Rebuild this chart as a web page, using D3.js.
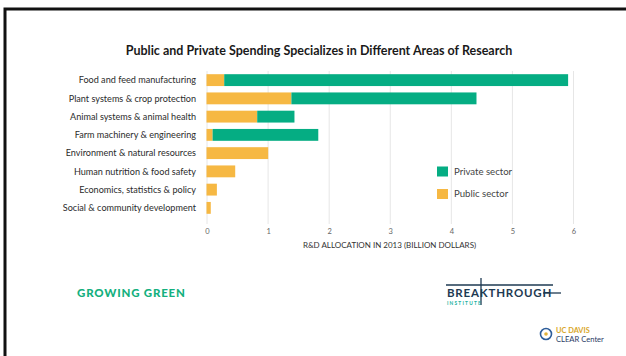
<!DOCTYPE html>
<html>
<head>
<meta charset="utf-8">
<script src="https://cdn.jsdelivr.net/npm/d3@7"></script>
<style>
  html, body { margin: 0; padding: 0; background: #fff; }
  svg { display: block; }
</style>
</head>
<body>
<svg id="chart" width="626" height="356"></svg>
<script>
// R&D allocation in 2013, billions of dollars
const categories = [
  "Food and feed manufacturing",
  "Plant systems & crop protection",
  "Animal systems & animal health",
  "Farm machinery & engineering",
  "Environment & natural resources",
  "Human nutrition & food safety",
  "Economics, statistics & policy",
  "Social & community development"
];
const publicValues  = [0.29, 1.39, 0.83, 0.10, 1.01, 0.47, 0.17, 0.07];
const privateValues = [5.63, 3.03, 0.61, 1.73, 0, 0, 0, 0];
const xTicks = [0, 1, 2, 3, 4, 5, 6];
const seriesNames = ["Public sector", "Private sector"];
const legendOrder = ["Private sector", "Public sector"];

const colors = { "Public sector": "#f6b843", "Private sector": "#05ad83" };
const labelFont = "Lato, 'Open Sans', sans-serif";

const svg = d3.select("#chart");

// outer frame
svg.append("path")
  .attr("d", "M5,356V9H626")
  .attr("fill", "none")
  .attr("stroke", "#111")
  .attr("stroke-width", 3);

const x = d3.scaleLinear().domain([0, 6]).range([206.5, 573]);
const y = d3.scaleBand().domain(categories).range([71, 217]).paddingInner(0.35).paddingOuter(0.175);

// title
svg.append("text")
  .attr("x", 319).attr("y", 54.5)
  .attr("text-anchor", "middle")
  .attr("font-family", labelFont)
  .attr("font-weight", 700)
  .attr("font-size", 12.5)
  .attr("fill", "#1a1a1a")
  .text("Public and Private Spending Specializes in Different Areas of Research");

// grid lines
svg.append("g").selectAll("line").data(xTicks).join("line")
  .attr("x1", d => x(d) + 0.5).attr("x2", d => x(d) + 0.5)
  .attr("y1", 71).attr("y2", 224)
  .attr("stroke", "#e6e6e6").attr("stroke-width", 1);

// stacked bars
const rows = categories.map((c, i) => ({
  category: c,
  "Public sector": publicValues[i],
  "Private sector": privateValues[i]
}));
const stack = d3.stack().keys(seriesNames)(rows);

svg.append("g").selectAll("g").data(stack).join("g")
  .attr("fill", s => colors[s.key])
  .selectAll("rect").data(s => s).join("rect")
  .attr("x", d => x(d[0]))
  .attr("y", d => y(d.data.category))
  .attr("width", d => Math.max(0, x(d[1]) - x(d[0])))
  .attr("height", y.bandwidth());

// category labels
svg.append("g").selectAll("text").data(categories).join("text")
  .attr("x", 196)
  .attr("y", d => y(d) + y.bandwidth() / 2)
  .attr("dy", "0.35em")
  .attr("text-anchor", "end")
  .attr("font-family", labelFont)
  .attr("font-size", 9.1)
  .attr("fill", "#2b2b2b")
  .text(d => d);

// x axis tick labels
const xAxis = d3.axisBottom(x).tickValues(xTicks).tickFormat(d3.format("d")).tickSize(0).tickPadding(0);
const gx = svg.append("g").attr("transform", "translate(0.5,229)").call(xAxis);
gx.select(".domain").remove();
gx.selectAll("text")
  .attr("font-family", labelFont)
  .attr("font-size", 7.5)
  .attr("fill", "#666");

// axis title
svg.append("text")
  .attr("x", 389.5).attr("y", 248)
  .attr("text-anchor", "middle")
  .attr("font-family", labelFont)
  .attr("font-size", 8.0)
  .attr("fill", "#333")
  .text("R&D ALLOCATION IN 2013 (BILLION DOLLARS)");

// legend
const legend = svg.append("g").selectAll("g").data(legendOrder).join("g")
  .attr("transform", (d, i) => `translate(437,${166.5 + i * 22.5})`);
legend.append("rect")
  .attr("width", 11).attr("height", 10)
  .attr("fill", d => colors[d]);
legend.append("text")
  .attr("x", 17).attr("y", 5).attr("dy", "0.35em")
  .attr("font-family", labelFont)
  .attr("font-size", 9.6)
  .attr("fill", "#444")
  .text(d => d);

// footer: series name
svg.append("text")
  .attr("x", 77).attr("y", 296.5)
  .attr("font-family", labelFont)
  .attr("font-weight", 900)
  .attr("font-size", 11.5)
  .attr("letter-spacing", 0.8)
  .attr("fill", "#14b07e")
  .text("GROWING GREEN");

// footer: Breakthrough Institute mark
const bt = svg.append("g").attr("fill", "none").attr("stroke", "#1e3a52").attr("stroke-width", 1.3);
bt.append("line").attr("x1", 446).attr("x2", 553).attr("y1", 285).attr("y2", 285);
bt.append("line").attr("x1", 481).attr("x2", 481).attr("y1", 278).attr("y2", 305);
bt.append("line").attr("x1", 543).attr("x2", 561).attr("y1", 293).attr("y2", 293);
svg.append("text")
  .attr("x", 447).attr("y", 297)
  .attr("font-family", labelFont)
  .attr("font-weight", 700)
  .attr("font-size", 11.5)
  .attr("letter-spacing", 0.8)
  .attr("fill", "#1e3a52")
  .text("BREAKTHROUGH");
svg.append("text")
  .attr("x", 447).attr("y", 304.5)
  .attr("font-family", labelFont)
  .attr("font-weight", 700)
  .attr("font-size", 4.8)
  .attr("letter-spacing", 1.2)
  .attr("fill", "#20b2a0")
  .text("INSTITUTE");

// footer: UC Davis CLEAR Center mark
svg.append("circle").attr("cx", 546).attr("cy", 334).attr("r", 5.5)
  .attr("fill", "none").attr("stroke", "#2d5d9a").attr("stroke-width", 1.6);
svg.append("circle").attr("cx", 546).attr("cy", 334).attr("r", 1.8).attr("fill", "#e2b23a");
svg.append("text")
  .attr("x", 556).attr("y", 332.5)
  .attr("font-family", labelFont).attr("font-weight", 700)
  .attr("font-size", 7.4).attr("fill", "#d9a72a")
  .text("UC DAVIS");
svg.append("text")
  .attr("x", 556).attr("y", 341.5)
  .attr("font-family", labelFont).attr("font-weight", 400)
  .attr("font-size", 7.6).attr("fill", "#2a3d66")
  .text("CLEAR Center");
</script>
</body>
</html>
